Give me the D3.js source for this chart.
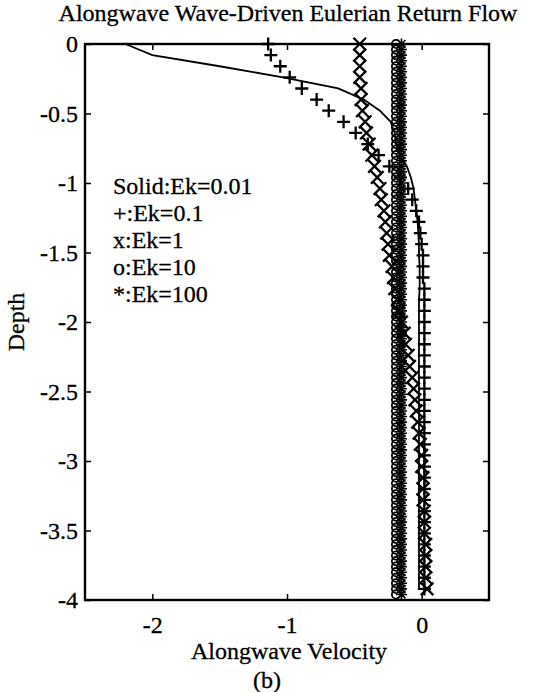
<!DOCTYPE html>
<html>
<head>
<meta charset="utf-8">
<script src="https://cdn.jsdelivr.net/npm/d3@7"></script>
<style>
  html, body { margin: 0; padding: 0; background: #fff; }
  svg { display: block; }
  text { font-family: "Liberation Serif", "Times New Roman", serif; fill: #000; stroke: #000; stroke-width: 0.3px; }
</style>
</head>
<body>
<svg id="chart" width="540" height="692"></svg>
<script>
// Depth levels of the coarse model grid (Ek = 0.01, 0.1, 1)
const depth = [0, -0.08, -0.16, -0.24, -0.32, -0.40, -0.48, -0.56, -0.64, -0.72,
  -0.80, -0.88, -0.96, -1.04, -1.12, -1.20, -1.28, -1.36, -1.44, -1.52,
  -1.60, -1.68, -1.76, -1.84, -1.92, -2.00, -2.08, -2.16, -2.24, -2.32,
  -2.40, -2.48, -2.56, -2.64, -2.72, -2.80, -2.88, -2.96, -3.04, -3.12,
  -3.20, -3.28, -3.36, -3.44, -3.52, -3.60, -3.68, -3.76, -3.84, -3.92];

// Depth levels of the fine model grid (Ek = 10, 100)
const depthFine = [0, -0.04, -0.08, -0.12, -0.16, -0.20, -0.24, -0.28, -0.32, -0.36,
  -0.40, -0.44, -0.48, -0.52, -0.56, -0.60, -0.64, -0.68, -0.72, -0.76,
  -0.80, -0.84, -0.88, -0.92, -0.96, -1.00, -1.04, -1.08, -1.12, -1.16,
  -1.20, -1.24, -1.28, -1.32, -1.36, -1.40, -1.44, -1.48, -1.52, -1.56,
  -1.60, -1.64, -1.68, -1.72, -1.76, -1.80, -1.84, -1.88, -1.92, -1.96,
  -2.00, -2.04, -2.08, -2.12, -2.16, -2.20, -2.24, -2.28, -2.32, -2.36,
  -2.40, -2.44, -2.48, -2.52, -2.56, -2.60, -2.64, -2.68, -2.72, -2.76,
  -2.80, -2.84, -2.88, -2.92, -2.96, -3.00, -3.04, -3.08, -3.12, -3.16,
  -3.20, -3.24, -3.28, -3.32, -3.36, -3.40, -3.44, -3.48, -3.52, -3.56,
  -3.60, -3.64, -3.68, -3.72, -3.76, -3.80, -3.84, -3.88, -3.92, -3.96];

// Alongwave velocity profiles for each Ekman number
const velEk001 = [-2.20, -2.00, -1.50, -1.03, -0.62, -0.43, -0.31, -0.23, -0.20, -0.19,
  -0.16, -0.11, -0.08, -0.06, -0.05, -0.04, -0.03, -0.025, -0.02, -0.02,
  -0.015, -0.015, -0.015, -0.02, -0.02, -0.02, -0.02, -0.02, -0.02, -0.02,
  -0.02, -0.02, -0.02, -0.02, -0.02, -0.02, -0.02, -0.02, -0.02, -0.02,
  -0.02, -0.02, -0.02, -0.02, -0.02, -0.02, -0.02, -0.02, -0.02, -0.02];

const velEk01 = [-1.14, -1.12, -1.05, -0.98, -0.89, -0.78, -0.69, -0.58, -0.49, -0.40,
  -0.32, -0.24, -0.16, -0.10, -0.07, -0.04, -0.02, -0.01, 0.00, 0.01,
  0.01, 0.01, 0.02, 0.02, 0.02, 0.02, 0.02, 0.02, 0.02, 0.02,
  0.02, 0.02, 0.02, 0.02, 0.02, 0.02, 0.02, 0.02, 0.02, 0.02,
  0.02, 0.02, 0.02, 0.02, 0.02, 0.02, 0.02, 0.02, 0.02, 0.02];

const velEk1 = [-0.46, -0.46, -0.46, -0.46, -0.45, -0.45, -0.44, -0.42, -0.41, -0.39,
  -0.37, -0.35, -0.33, -0.31, -0.30, -0.28, -0.27, -0.26, -0.25, -0.24,
  -0.22, -0.21, -0.20, -0.18, -0.17, -0.15, -0.13, -0.12, -0.10, -0.09,
  -0.07, -0.06, -0.05, -0.04, -0.03, -0.02, -0.01, 0.00, 0.00, 0.01,
  0.01, 0.01, 0.02, 0.02, 0.02, 0.03, 0.03, 0.03, 0.03, 0.04];

const velEk10 = [-0.19, -0.19, -0.19, -0.19, -0.19, -0.19, -0.19, -0.19, -0.19, -0.19,
  -0.19, -0.19, -0.19, -0.19, -0.19, -0.19, -0.19, -0.19, -0.19, -0.19,
  -0.19, -0.19, -0.19, -0.19, -0.19, -0.19, -0.19, -0.19, -0.19, -0.19,
  -0.19, -0.19, -0.19, -0.19, -0.19, -0.19, -0.19, -0.19, -0.19, -0.19,
  -0.19, -0.19, -0.19, -0.19, -0.19, -0.19, -0.19, -0.19, -0.19, -0.19,
  -0.19, -0.19, -0.19, -0.19, -0.19, -0.19, -0.19, -0.19, -0.19, -0.19,
  -0.19, -0.19, -0.19, -0.19, -0.19, -0.19, -0.19, -0.19, -0.19, -0.19,
  -0.19, -0.19, -0.19, -0.19, -0.19, -0.19, -0.19, -0.19, -0.19, -0.19,
  -0.19, -0.19, -0.19, -0.19, -0.19, -0.19, -0.19, -0.19, -0.19, -0.19,
  -0.19, -0.19, -0.19, -0.19, -0.19, -0.19, -0.19, -0.19, -0.19, -0.19];

const velEk100 = [-0.15, -0.15, -0.15, -0.15, -0.15, -0.15, -0.15, -0.15, -0.15, -0.15,
  -0.15, -0.15, -0.15, -0.15, -0.15, -0.15, -0.15, -0.15, -0.15, -0.15,
  -0.15, -0.15, -0.15, -0.15, -0.15, -0.15, -0.15, -0.15, -0.15, -0.15,
  -0.15, -0.15, -0.15, -0.15, -0.15, -0.15, -0.15, -0.15, -0.15, -0.15,
  -0.15, -0.15, -0.15, -0.15, -0.15, -0.15, -0.15, -0.15, -0.15, -0.15,
  -0.15, -0.15, -0.15, -0.15, -0.15, -0.15, -0.15, -0.15, -0.15, -0.15,
  -0.15, -0.15, -0.15, -0.15, -0.15, -0.15, -0.15, -0.15, -0.15, -0.15,
  -0.15, -0.15, -0.15, -0.15, -0.15, -0.15, -0.15, -0.15, -0.15, -0.15,
  -0.15, -0.15, -0.15, -0.15, -0.15, -0.15, -0.15, -0.15, -0.15, -0.15,
  -0.15, -0.15, -0.15, -0.15, -0.15, -0.15, -0.15, -0.15, -0.15, -0.15];

const xTicks = [-2, -1, 0];
const yTicks = [0, -0.5, -1, -1.5, -2, -2.5, -3, -3.5, -4];
const legendLines = ["Solid:Ek=0.01", "+:Ek=0.1", "x:Ek=1", "o:Ek=10", "*:Ek=100"];

const titleText = "Alongwave Wave-Driven Eulerian Return Flow";
const xLabel = "Alongwave Velocity";
const yLabel = "Depth";
const caption = "(b)";

// Layout
const frame = { left: 85, right: 489, top: 44, bottom: 600 };
const fs = 24;

const svg = d3.select("#chart");

const x = d3.scaleLinear().domain([-2.5, 0.5]).range([frame.left, frame.right]);
const y = d3.scaleLinear().domain([-4, 0]).range([frame.bottom, frame.top]);

// Inward ticks on all four sides
const tick = 6;
svg.append("g").attr("transform", `translate(0,${frame.bottom})`)
  .call(d3.axisBottom(x).tickValues(xTicks).tickSize(-tick).tickPadding(16).tickFormat(d => String(d)))
  .call(g => g.select(".domain").remove())
  .call(g => g.selectAll("text").attr("font-size", fs).attr("font-family", "Liberation Serif"));

svg.append("g").attr("transform", `translate(0,${frame.top})`)
  .call(d3.axisTop(x).tickValues(xTicks).tickSize(-tick).tickFormat(""))
  .call(g => g.select(".domain").remove());

svg.append("g").attr("transform", `translate(${frame.left},0)`)
  .call(d3.axisLeft(y).tickValues(yTicks).tickSize(-tick).tickPadding(7).tickFormat(d => String(d)))
  .call(g => g.select(".domain").remove())
  .call(g => g.selectAll("text").attr("font-size", fs).attr("font-family", "Liberation Serif"));

svg.append("g").attr("transform", `translate(${frame.right},0)`)
  .call(d3.axisRight(y).tickValues(yTicks).tickSize(-tick).tickFormat(""))
  .call(g => g.select(".domain").remove());

svg.selectAll(".tick line").attr("stroke", "#000").attr("stroke-width", 1.5);

// Data rows
const rows = depth.map((d, i) => ({ d, a: velEk001[i], b: velEk01[i], c: velEk1[i] }));
const rowsFine = depthFine.map((d, i) => ({ d, e: velEk10[i], f: velEk100[i] }));

const plot = svg.append("g");

// Ek=10 circles
plot.append("g").selectAll("circle").data(rowsFine).join("circle")
  .attr("cx", r => x(r.e)).attr("cy", r => y(r.d)).attr("r", 4.2)
  .attr("fill", "none").attr("stroke", "#000").attr("stroke-width", 1.8);

// Ek=100 asterisks
const star = (cx, cy, s) => {
  const h = s * 0.72;
  return `M${cx - s},${cy}L${cx + s},${cy}M${cx},${cy - s}L${cx},${cy + s}` +
    `M${cx - h},${cy - h}L${cx + h},${cy + h}M${cx - h},${cy + h}L${cx + h},${cy - h}`;
};
plot.append("g").selectAll("path").data(rowsFine).join("path")
  .attr("d", r => star(x(r.f), y(r.d), 5.5))
  .attr("fill", "none").attr("stroke", "#000").attr("stroke-width", 1.6);

// Ek=1 crosses
const cross = (cx, cy, s) => `M${cx - s},${cy - s}L${cx + s},${cy + s}M${cx - s},${cy + s}L${cx + s},${cy - s}`;
plot.append("g").selectAll("path").data(rows).join("path")
  .attr("d", r => cross(x(r.c), y(r.d), 6.3))
  .attr("fill", "none").attr("stroke", "#000").attr("stroke-width", 2.3);

// Ek=0.1 plus signs
const plus = (cx, cy, s) => `M${cx - s},${cy}L${cx + s},${cy}M${cx},${cy - s}L${cx},${cy + s}`;
plot.append("g").selectAll("path").data(rows).join("path")
  .attr("d", r => plus(x(r.b), y(r.d), 6.5))
  .attr("fill", "none").attr("stroke", "#000").attr("stroke-width", 2.3);

// Ek=0.01 solid profile
plot.append("path").datum(rows)
  .attr("d", d3.line().x(r => x(r.a)).y(r => y(r.d)))
  .attr("fill", "none").attr("stroke", "#000").attr("stroke-width", 1.8);

// Frame
svg.append("rect").attr("x", frame.left).attr("y", frame.top)
  .attr("width", frame.right - frame.left).attr("height", frame.bottom - frame.top)
  .attr("fill", "none").attr("stroke", "#000").attr("stroke-width", 2.4);

// Legend text
svg.append("g").selectAll("text").data(legendLines).join("text")
  .attr("x", 113).attr("y", (d, i) => 194 + i * 27)
  .attr("font-size", fs).text(d => d);

// Titles
svg.append("text").attr("x", 288).attr("y", 21).attr("text-anchor", "middle")
  .attr("font-size", fs).text(titleText);
svg.append("text").attr("x", (frame.left + frame.right) / 2 + 2).attr("y", 659).attr("text-anchor", "middle")
  .attr("font-size", fs).text(xLabel);
svg.append("text").attr("x", 267).attr("y", 688).attr("text-anchor", "middle")
  .attr("font-size", fs).text(caption);
svg.append("text").attr("transform", `translate(24,${(frame.top + frame.bottom) / 2}) rotate(-90)`)
  .attr("text-anchor", "middle").attr("font-size", fs).text(yLabel);
</script>
</body>
</html>
